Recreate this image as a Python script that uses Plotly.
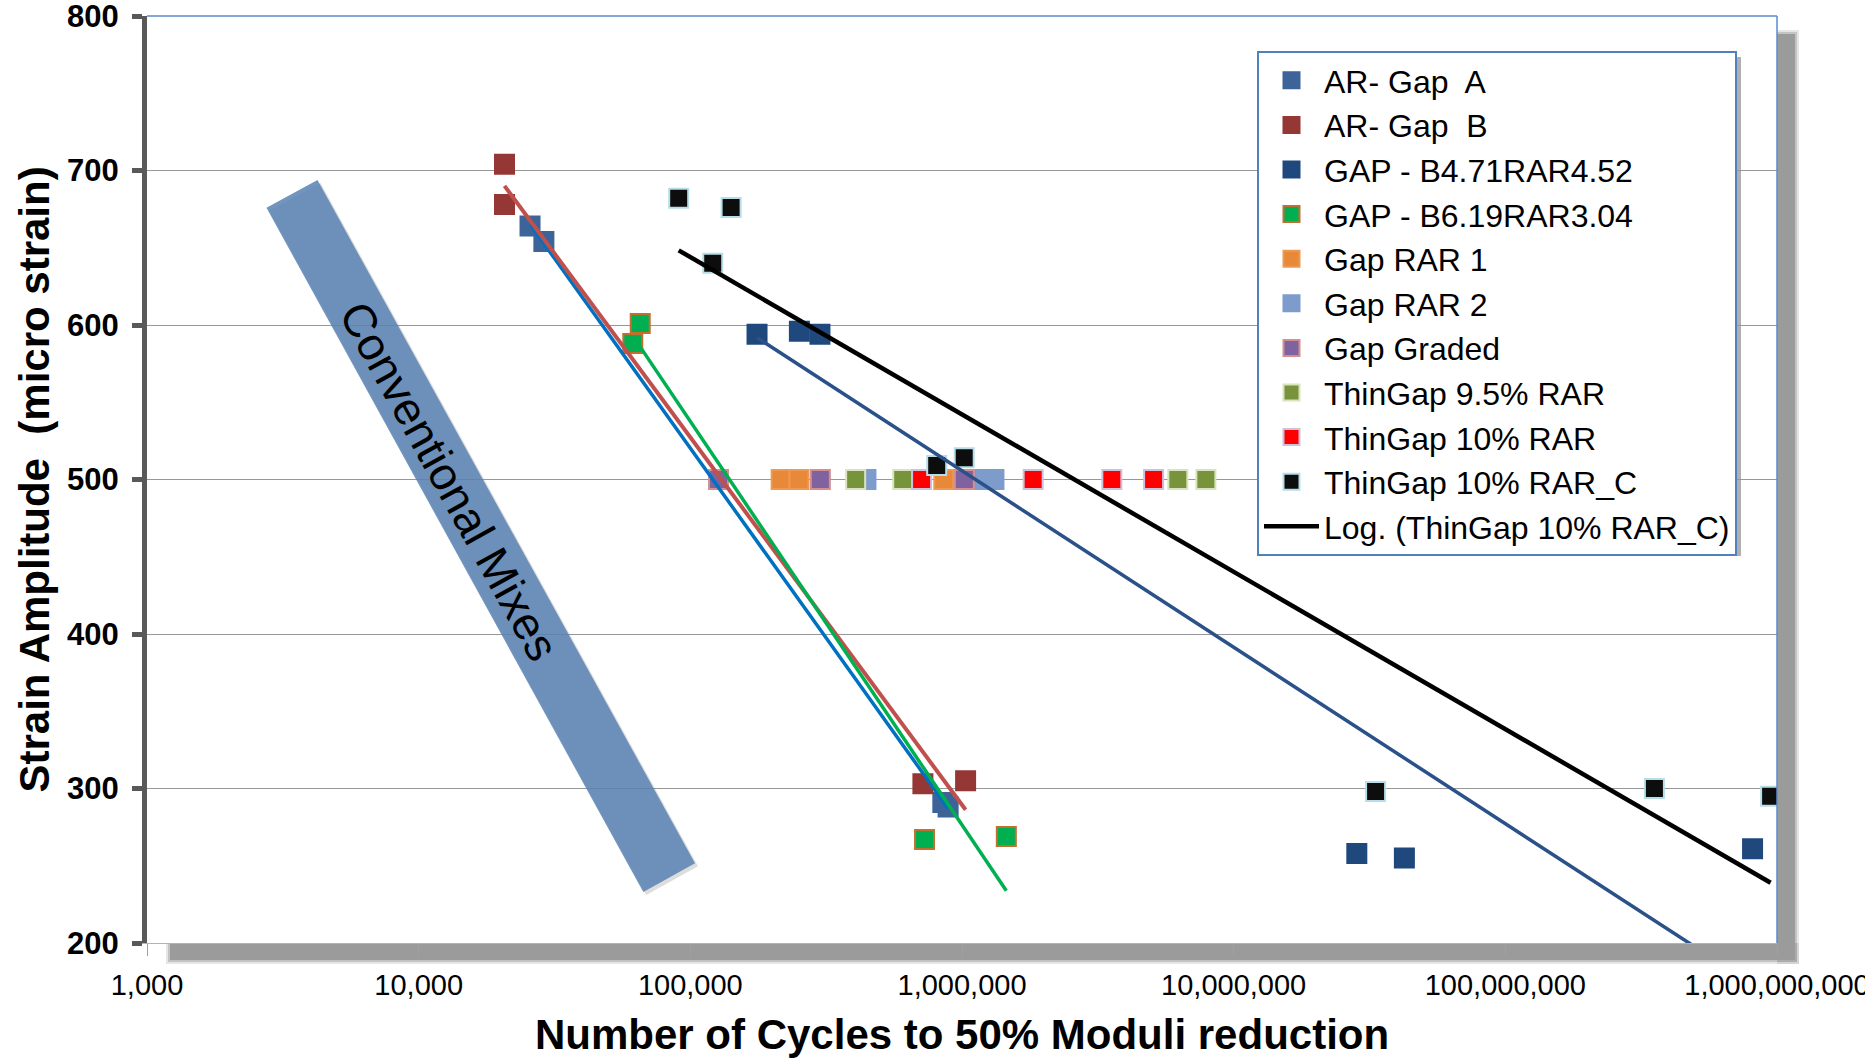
import numpy as np
import plotly.graph_objects as go

# ---- data: cycles to 50% moduli reduction (N) vs strain amplitude (micro strain) ----
ar_gap_a_n = [25700, 28900, 850000, 889000]
ar_gap_a_e = [664, 654, 291, 288]

ar_gap_b_n = [20700, 20700, 718000, 1031000]
ar_gap_b_e = [704, 678, 303, 305]

gap_b471_n = [176000, 252000, 300000, 28400000, 42500000, 813000000]
gap_b471_e = [594, 596, 594, 258, 255, 261]

gap_b619_n = [65400, 61400, 728000, 1456000]
gap_b619_e = [601, 588, 267, 269]

gap_rar1_n = [216000, 251000, 857000]
gap_rar1_e = [500, 500, 500]

gap_rar2_n = [443000, 1132000, 1311000]
gap_rar2_e = [500, 500, 500]

gap_graded_n = [127000, 301000, 1020000]
gap_graded_e = [500, 500, 500]

thin95_n = [406000, 605000, 6230000, 7900000]
thin95_e = [500, 500, 500, 500]

thin10_n = [710000, 1828000, 3561000, 5073000]
thin10_e = [500, 500, 500, 500]

thin10c_n = [90600, 120900, 141300, 807000, 1019000, 33300000, 353800000, 947300000]
thin10c_e = [682, 640, 676, 509, 514, 298, 300, 295]

# published log trendline for GAP - B4.71RAR4.52: e = a*ln(N) + b
gap_b471_trend_a = -49.6
gap_b471_trend_b = 1190.9

x_tick_vals = [1e3, 1e4, 1e5, 1e6, 1e7, 1e8, 1e9]
x_tick_text = ["1,000", "10,000", "100,000", "1,000,000", "10,000,000",
               "100,000,000", "1,000,000,000"]
y_tick_vals = [200, 300, 400, 500, 600, 700, 800]

FONT = "Arial, Liberation Sans, sans-serif"

# ---- page geometry ----
W, H = 1865, 1059
ML, MR, MT, MB = 147, 88, 16, 116
PW, PH = W - ML - MR, H - MT - MB


def px(x):
    return (x - ML) / PW


def py(y):
    return (H - MB - y) / PH


series = [
    ("AR- Gap  A", ar_gap_a_n, ar_gap_a_e, "#3C6498", "#3C6498"),
    ("AR- Gap  B", ar_gap_b_n, ar_gap_b_e, "#953735", "#953735"),
    ("GAP - B4.71RAR4.52", gap_b471_n, gap_b471_e, "#1F497D", "#1F497D"),
    ("GAP - B6.19RAR3.04", gap_b619_n, gap_b619_e, "#00B050", "#C0712F"),
    ("Gap RAR 1", gap_rar1_n, gap_rar1_e, "#E8893A", "#EE9950"),
    ("Gap RAR 2", gap_rar2_n, gap_rar2_e, "#7E9CCB", "#7E9CCB"),
    ("Gap Graded", gap_graded_n, gap_graded_e, "#7F63A1", "#D48F8C"),
    ("ThinGap 9.5% RAR", thin95_n, thin95_e, "#77933C", "#D7E4BD"),
    ("ThinGap 10% RAR", thin10_n, thin10_e, "#FF0000", "#CCC1DA"),
    ("ThinGap 10% RAR_C", thin10c_n, thin10c_e, "#0D0D0D", "#B7DEE8"),
]

fig = go.Figure()

for name, n, e, fill, edge in series:
    fig.add_trace(go.Scatter(
        x=n, y=e, mode="markers", name=name, legendgroup=name,
        marker=dict(symbol="square", size=19, color=fill,
                    line=dict(color=edge, width=2)),
    ))


def log_fit(n, e):
    a, b = np.polyfit(np.log(n), e, 1)
    return a, b


def trend_trace(n, a, b, color, width, name=None, show=False):
    xs = np.geomspace(min(n), max(n), 60)
    ys = a * np.log(xs) + b
    return go.Scatter(
        x=xs, y=ys, mode="lines", name=name, legendgroup=name or color,
        showlegend=show, line=dict(color=color, width=width),
        hoverinfo="skip",
    )


a, b = log_fit(ar_gap_a_n, ar_gap_a_e)
fig.add_trace(trend_trace(ar_gap_a_n, a, b, "#0070C0", 3.5))
a, b = log_fit(ar_gap_b_n, ar_gap_b_e)
fig.add_trace(trend_trace(ar_gap_b_n, a, b, "#C0504D", 4))
fig.add_trace(trend_trace(gap_b471_n, gap_b471_trend_a, gap_b471_trend_b,
                          "#2A5189", 3.5))
a, b = log_fit(gap_b619_n, gap_b619_e)
fig.add_trace(trend_trace(gap_b619_n, a, b, "#00B050", 3.5))
a, b = log_fit(thin10c_n, thin10c_e)
fig.add_trace(trend_trace(thin10c_n, a, b, "#000000", 4.5,
                          name="Log. (ThinGap 10% RAR_C)", show=True))

shapes = []

# soft drop shadow of the plot area (bottom and right)
for grow, op in [(4, 0.25), (2, 0.45), (0, 1.0)]:
    col = f"rgba(155,155,155,{op})"
    shapes.append(dict(type="rect", xref="paper", yref="paper", layer="below",
                       x0=px(170 - grow), x1=px(1795 + grow),
                       y0=py(943), y1=py(960 + grow),
                       line=dict(width=0), fillcolor=col))
    shapes.append(dict(type="rect", xref="paper", yref="paper", layer="below",
                       x0=px(1777), x1=px(1795 + grow),
                       y0=py(34 - grow), y1=py(960 + grow),
                       line=dict(width=0), fillcolor=col))

# blue frame on top and right of the plot area
shapes.append(dict(type="line", xref="paper", yref="paper", layer="above",
                   x0=0, x1=1, y0=1, y1=1, line=dict(color="#5B8BD0", width=1.5)))
shapes.append(dict(type="line", xref="paper", yref="paper", layer="above",
                   x0=1, x1=1, y0=0, y1=1, line=dict(color="#5B8BD0", width=1.5)))

# "Conventional Mixes" band
band = [(266.5, 207.8), (317.5, 180.1), (695.0, 863.3), (643.3, 892.1)]
shadow = [(x + 3, y + 3) for x, y in band]
for pts, col in [(shadow, "rgba(120,120,120,0.25)"), (band, "rgba(88,130,179,0.85)")]:
    path = "M " + " L ".join(f"{px(x):.5f},{py(y):.5f}" for x, y in pts) + " Z"
    shapes.append(dict(type="path", xref="paper", yref="paper", layer="above",
                       path=path, fillcolor=col, line=dict(width=0)))

# legend drop shadow
shapes.append(dict(type="rect", xref="paper", yref="paper", layer="above",
                   x0=px(1263), x1=px(1741), y0=py(57), y1=py(556),
                   fillcolor="rgba(150,150,150,0.75)", line=dict(width=0)))

annotations = [
    dict(text="Conventional Mixes", xref="paper", yref="paper",
         x=px(449.5), y=py(480.6), xanchor="center", yanchor="middle",
         textangle=61, showarrow=False,
         font=dict(family=FONT, size=46, color="black")),
    dict(text="Number of Cycles to 50% Moduli reduction", xref="paper", yref="paper",
         x=0.5, y=py(1034), xanchor="center", yanchor="middle", showarrow=False,
         font=dict(family=FONT, size=42, color="black", weight="bold")),
    dict(text="Strain Amplitude  (micro strain)", xref="paper", yref="paper",
         x=px(34), y=0.5, xanchor="center", yanchor="middle", textangle=-90,
         showarrow=False,
         font=dict(family=FONT, size=42, color="black", weight="bold")),
]

fig.update_layout(
    width=W, height=H,
    margin=dict(l=ML, r=MR, t=MT, b=MB, autoexpand=False),
    paper_bgcolor="white", plot_bgcolor="white",
    showlegend=True,
    legend=dict(x=px(1257), y=py(51), xanchor="left", yanchor="top",
                bgcolor="white", bordercolor="#4F81BD", borderwidth=2,
                font=dict(family=FONT, size=32, color="black"),
                tracegroupgap=0, itemwidth=55),
    shapes=shapes, annotations=annotations,
    xaxis=dict(type="log", range=[3, 9], tickvals=x_tick_vals, ticktext=x_tick_text,
               showgrid=False, zeroline=False,
               showline=True, linecolor="#B4B4B4", linewidth=1,
               ticks="outside", ticklen=12, tickwidth=1, tickcolor="#A0A0A0",
               ticklabelstandoff=4, ticklabeloverflow="allow",
               tickfont=dict(family=FONT, size=29, color="black")),
    yaxis=dict(range=[200, 800], tickvals=y_tick_vals,
               showgrid=True, gridcolor="#979797", gridwidth=1, zeroline=False,
               showline=True, linecolor="#595959", linewidth=5,
               ticks="outside", ticklen=10, tickwidth=5, tickcolor="#595959",
               ticklabelstandoff=7, ticklabeloverflow="allow",
               tickfont=dict(family=FONT, size=31, color="black", weight="bold")),
)

fig.write_html("out.html")
